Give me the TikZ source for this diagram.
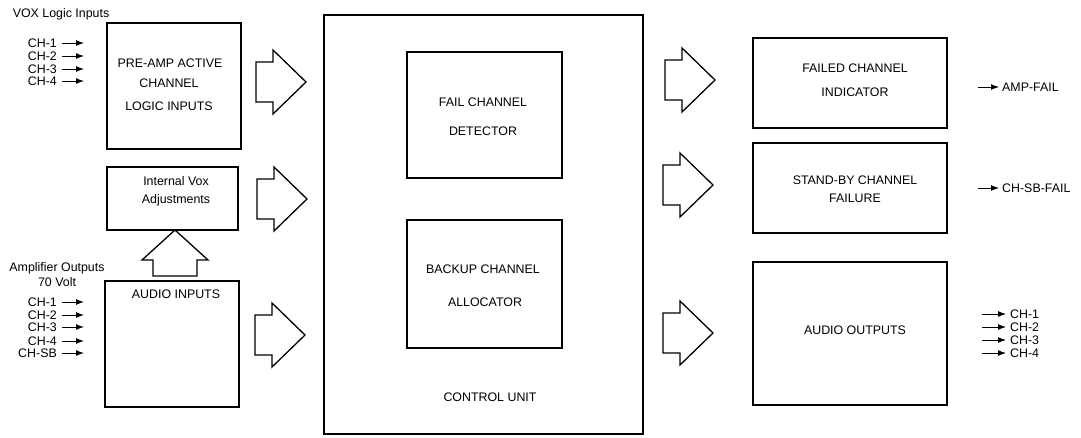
\documentclass[tikz,border=0pt]{standalone}
\usepackage{fontspec}
\setmainfont{Liberation Sans}
\usetikzlibrary{arrows.meta}

% hollow block arrow pointing right: #1 = left x, #2 = centre y
\newcommand\fatarrow[2]{%
  \draw[fat] (#1,#2-20) -- ++(17,0) -- ++(0,-12) -- ++(33,32)
    -- ++(-33,32) -- ++(0,-12) -- ++(-17,0) -- cycle;}

\begin{document}
\begin{tikzpicture}[x=1pt,y=-1pt,
  block/.style={draw, line width=1.6pt, inner sep=0pt, outer sep=0pt},
  lbl/.style={inner sep=0pt, text height=8.8pt, text depth=0pt,
    font=\fontsize{12.4}{14}\selectfont},
  sig/.style={line width=1pt, -{Latex[length=8pt,width=6pt]}},
  fat/.style={draw, line width=1.3pt, line join=miter}]
\useasboundingbox (0,0) rectangle (1081,437);

% ---- left column -------------------------------------------------
\node[block, minimum width=134pt, minimum height=126pt] (preamp) at (174,86) {};
\node[lbl] (pa1) at (170,63) {PRE-AMP ACTIVE};
\node[lbl] (pa2) at (169,83) {CHANNEL};
\node[lbl] (pa3) at (169,106) {LOGIC INPUTS};

\node[block, minimum width=131pt, minimum height=63pt] (ivox) at (172.5,198.5) {};
\node[lbl] (iv1) at (176,181) {Internal Vox};
\node[lbl] (iv2) at (176,199) {Adjustments};

\node[block, minimum width=134pt, minimum height=126pt] (ain) at (172,344) {};
\node[lbl] (ain1) at (176,294) {AUDIO INPUTS};

% VOX logic inputs
\node[lbl] (voxin) at (61,13) {VOX Logic Inputs};
\foreach \i/\y in {1/43,2/56,3/69,4/81}{
  \node[lbl, inner xsep=5pt, anchor=east] (vi\i) at (62,\y) {CH-\i};
  \coordinate (vi\i e) at (84,\y);
  \draw[sig] (vi\i.east) -- (vi\i e);
}

% amplifier outputs
\node[lbl] (amp1) at (57,267) {Amplifier Outputs};
\node[lbl] (amp2) at (57,282) {70 Volt};
\foreach \n/\t/\y in {1/CH-1/302,2/CH-2/315,3/CH-3/327,4/CH-4/341,5/CH-SB/353}{
  \node[lbl, inner xsep=5pt, anchor=east] (ai\n) at (62,\y) {\t};
  \coordinate (ai\n e) at (84,\y);
  \draw[sig] (ai\n.east) -- (ai\n e);
}

% up arrow from the audio inputs to the vox adjustments
\coordinate (uptip) at (175,230);
\draw[fat] (uptip) -- ++(33,30) -- ++(-11,0) -- ++(0,16) -- ++(-44,0)
  -- ++(0,-16) -- ++(-11,0) -- cycle;

% block arrows into the control unit
\fatarrow{256}{82}
\fatarrow{257}{199}
\fatarrow{255}{335}

% ---- control unit ------------------------------------------------
\node[block, minimum width=319pt, minimum height=419pt] (ctrl) at (483.5,224.5) {};
\node[block, minimum width=155pt, minimum height=126pt] (fcd) at (484.5,115) {};
\node[lbl] (fcd1) at (483,102) {FAIL CHANNEL};
\node[lbl] (fcd2) at (483,131) {DETECTOR};
\node[block, minimum width=155pt, minimum height=128pt] (bca) at (484.5,284) {};
\node[lbl] (bca1) at (483,269) {BACKUP CHANNEL};
\node[lbl] (bca2) at (485,302) {ALLOCATOR};
\node[lbl] (ctrl1) at (490,397) {CONTROL UNIT};

% block arrows out of the control unit
\fatarrow{665}{80}
\fatarrow{663}{185}
\fatarrow{663}{333}

% ---- right column ------------------------------------------------
\node[block, minimum width=194pt, minimum height=90pt] (fci) at (850,83) {};
\node[lbl] (fci1) at (855,68) {FAILED CHANNEL};
\node[lbl] (fci2) at (855,92) {INDICATOR};

\node[block, minimum width=194pt, minimum height=90pt] (sbf) at (850,188) {};
\node[lbl] (sbf1) at (855,180) {STAND-BY CHANNEL};
\node[lbl] (sbf2) at (855,198) {FAILURE};

\node[block, minimum width=194pt, minimum height=143pt] (aout) at (850,333.5) {};
\node[lbl] (aout1) at (855,330) {AUDIO OUTPUTS};

% output signals
\coordinate (ampf s) at (978,87);
\node[lbl, inner xsep=3pt, anchor=west] (ampf) at (999,87) {AMP-FAIL};
\draw[sig] (ampf s) -- (ampf.west);
\coordinate (sbf s) at (978,188);
\node[lbl, inner xsep=3pt, anchor=west] (chsbf) at (999,188) {CH-SB-FAIL};
\draw[sig] (sbf s) -- (chsbf.west);

\foreach \i/\y in {1/314,2/327,3/340,4/353}{
  \coordinate (ao\i s) at (982,\y);
  \node[lbl, inner xsep=4pt, anchor=west] (ao\i) at (1006,\y) {CH-\i};
  \draw[sig] (ao\i s) -- (ao\i.west);
}
\end{tikzpicture}
\end{document}
